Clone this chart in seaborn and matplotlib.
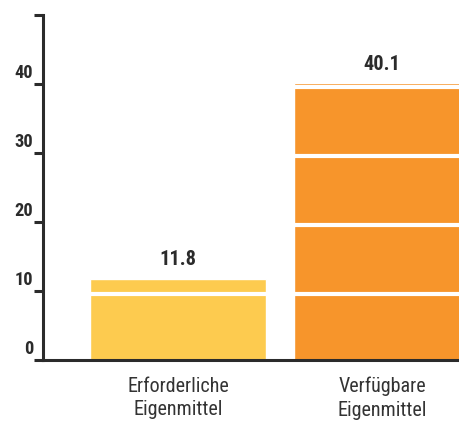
import matplotlib
matplotlib.use("Agg")
import matplotlib.pyplot as plt
import matplotlib.transforms as mtransforms
import seaborn as sns

# Eigenmittel in Mrd. (erforderlich vs. verfügbar)
categories = ["Erforderliche\nEigenmittel", "Verfügbare\nEigenmittel"]
values = [11.8, 40.1]
value_labels = ["11.8", "40.1"]
bar_colors = ["#FDCB4F", "#F7952B"]
y_ticks = [0, 10, 20, 30, 40, 50]
y_tick_labels = ["0", "10", "20", "30", "40", ""]

sns.set_theme(style="white")
plt.rcParams["font.family"] = ["Roboto Condensed", "DejaVu Sans"]

ink = "#2b2b2b"

fig = plt.figure(figsize=(4.59, 4.22), dpi=100)
ax = fig.add_axes([43 / 459, 62 / 422, 1 - 43 / 459, 345 / 422])

sns.barplot(x=categories, y=values, hue=categories, palette=bar_colors,
            width=0.863, saturation=1, legend=False, ax=ax, zorder=1)

ax.set_xlim(-0.662, 1.377)
ax.set_ylim(0, 50)

# white separator lines across the bars, just under each ten-mark
for v in y_ticks[1:-1]:
    ax.axhline(v - 0.45, color="white", lw=3.0, zorder=2)

# value labels above the bars
for container, lab in zip(ax.containers, value_labels):
    ax.bar_label(container, labels=[lab], padding=7, fontsize=14.7,
                 fontweight="bold", color=ink)

ax.set_yticks(y_ticks)
ax.set_yticklabels(y_tick_labels, fontsize=13.2, fontweight="bold", color=ink)
ax.tick_params(axis="y", direction="out", length=6.5, width=2.2, color=ink,
               pad=0.5, left=True)
ax.tick_params(axis="x", length=0, pad=12, labelsize=14.5, labelcolor="#333333")
for lbl in ax.get_xticklabels():
    lbl.set_linespacing(1.3)
ax.set_xlabel("")
ax.set_ylabel("")

# lift the y labels so they sit above their tick marks
offset = mtransforms.ScaledTranslation(0, 9.7 / 72, fig.dpi_scale_trans)
for lbl in ax.get_yticklabels():
    lbl.set_transform(lbl.get_transform() + offset)

for side in ["top", "right"]:
    ax.spines[side].set_visible(False)
for side in ["left", "bottom"]:
    ax.spines[side].set_color(ink)
    ax.spines[side].set_linewidth(2.2)
ax.grid(False)

fig.savefig("out.png", dpi=100)
